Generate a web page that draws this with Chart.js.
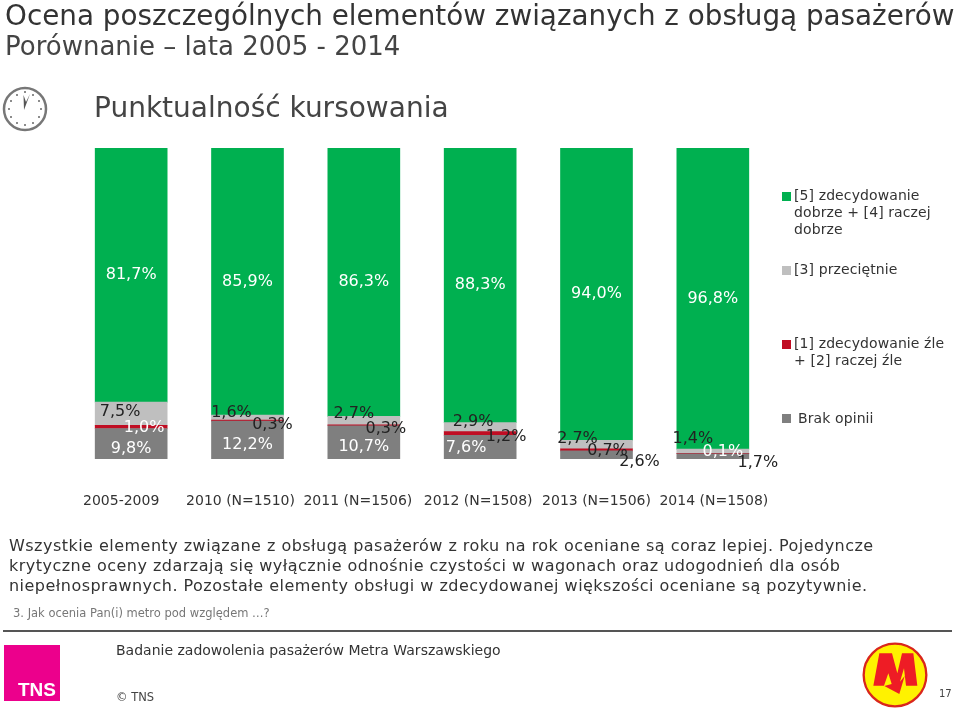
<!DOCTYPE html>
<html lang="pl">
<head>
<meta charset="utf-8">
<title>Punktualność kursowania</title>
<script src="https://cdn.jsdelivr.net/npm/chart.js@4"></script>
<style>
  html, body { margin: 0; padding: 0; background: #fff; }
  #page { position: relative; width: 960px; height: 712px; overflow: hidden; font-family: "DejaVu Sans", sans-serif; color: #333; }
  #page canvas { position: absolute; left: 0; top: 0; }
  .t { position: absolute; white-space: nowrap; }
  .swatch { position: absolute; width: 9px; height: 9px; }
  .leg { font-size: 14px; line-height: 17px; letter-spacing: 0.1px; }
</style>
</head>
<body>
<div id="page">
  <canvas id="chart" width="960" height="712"></canvas>

  <div class="t" style="left:5px;top:-1px;font-size:27.8px;color:#333">Ocena poszczególnych elementów związanych z obsługą pasażerów</div>
  <div class="t" style="left:5px;top:31px;font-size:26px;color:#444">Porównanie – lata 2005 - 2014</div>
  <div class="t" style="left:94px;top:91px;font-size:28px;color:#444">Punktualność kursowania</div>

  <svg style="position:absolute;left:0;top:84px" width="50" height="50" viewBox="0 0 50 50">
    <circle cx="25" cy="25" r="21" fill="#fff" stroke="#777" stroke-width="2.5"/>
    <g fill="#666">
      <circle cx="25" cy="8" r="1"/><circle cx="41" cy="25" r="1"/><circle cx="25" cy="41" r="1"/><circle cx="9" cy="25" r="1"/>
      <circle cx="33" cy="11" r="1"/><circle cx="39" cy="17" r="1"/><circle cx="39" cy="33" r="1"/><circle cx="33" cy="39" r="1"/>
      <circle cx="17" cy="39" r="1"/><circle cx="11" cy="33" r="1"/><circle cx="11" cy="17" r="1"/><circle cx="17" cy="11" r="1"/>
    </g>
    <polygon points="24,26 23.5,11 26,18 30,10" fill="#555"/>
  </svg>

  <div class="swatch" style="left:782px;top:192px;background:#00B050"></div>
  <div class="t leg" style="left:794px;top:187px">[5] zdecydowanie<br>dobrze + [4] raczej<br>dobrze</div>
  <div class="swatch" style="left:782px;top:266px;background:#BFBFBF"></div>
  <div class="t leg" style="left:794px;top:261px">[3] przeciętnie</div>
  <div class="swatch" style="left:782px;top:340px;background:#C00D23"></div>
  <div class="t leg" style="left:794px;top:335px">[1] zdecydowanie źle<br>+ [2] raczej źle</div>
  <div class="swatch" style="left:782px;top:414px;background:#7F7F7F"></div>
  <div class="t leg" style="left:798px;top:410px">Brak opinii</div>

  <div class="t" style="left:9px;top:536px;font-size:16px;line-height:20px;letter-spacing:0.47px;color:#333">Wszystkie elementy związane z obsługą pasażerów z roku na rok oceniane są coraz lepiej. Pojedyncze<br>krytyczne oceny zdarzają się wyłącznie odnośnie czystości w wagonach oraz udogodnień dla osób<br>niepełnosprawnych. Pozostałe elementy obsługi w zdecydowanej większości oceniane są pozytywnie.</div>
  <div class="t" style="left:13px;top:606px;font-size:11.5px;color:#777">3. Jak ocenia Pan(i) metro pod względem …?</div>

  <div style="position:absolute;left:3px;top:630px;width:949px;height:2px;background:#555"></div>
  <div class="t" style="left:116px;top:642px;font-size:14px;color:#333">Badanie zadowolenia pasażerów Metra Warszawskiego</div>
  <div class="t" style="left:116px;top:690px;font-size:11.5px;color:#444">© TNS</div>
  <div class="t" style="left:939px;top:688px;font-size:10px;color:#444">17</div>

  <div style="position:absolute;left:4px;top:645px;width:56px;height:56px;background:#EC008C"></div>
  <div class="t" style="left:18px;top:679px;font-family:'Liberation Sans',sans-serif;font-size:19px;font-weight:bold;color:#fff">TNS</div>

  <svg style="position:absolute;left:820px;top:620px" width="140" height="92" viewBox="0 0 420 276">
    <circle cx="225" cy="165" r="94" fill="#FFF200" stroke="#D9261C" stroke-width="7"/>
    <polygon fill="#EE1C25" points="160,197 178,100 216,100 232,160 246,100 280,100 292,197 258,197 252,145 240,185 254,168 238,222 193,198 215,192 205,160 192,197"/>
  </svg>
</div>

<script>
// Datos del gráfico
const categories = ["2005-2009", "2010 (N=1510)", "2011 (N=1506)", "2012 (N=1508)", "2013 (N=1506)", "2014 (N=1508)"];
const brakOpinii = [9.8, 12.2, 10.7, 7.6, 2.6, 1.7];
const zle = [1.0, 0.3, 0.3, 1.2, 0.7, 0.1];
const przecietnie = [7.5, 1.6, 2.7, 2.9, 2.7, 1.4];
const dobrze = [81.7, 85.9, 86.3, 88.3, 94.0, 96.8];

// Desplazamiento de cada etiqueta respecto al centro del segmento, como en la lámina
const labelShift = [
  { color: ["#fff", "#fff", "#fff", "#fff", "#222", "#222"], dx: [0, 0, 0, -14, 43, 45], dy: [5, 5, 4, 1, 7, 6] },
  { color: ["#fff", "#222", "#222", "#222", "#222", "#fff"], dx: [13, 25, 22, 26, 11, 10], dy: [1, 4, 4, 3, 1, -2] },
  { color: ["#222", "#222", "#222", "#222", "#222", "#222"], dx: [-11, -16, -10, -7, -19, -20], dy: [-2, -5, -7, -5, -6, -12] },
  { color: ["#fff", "#fff", "#fff", "#fff", "#fff", "#fff"], dx: [0, 0, 0, 0, 0, 0], dy: [0, 0, 0, 0, 0, 0] }
];
const tickShift = [-10, -7, -6, -2, 0, 1];

const segmentLabels = {
  id: "segmentLabels",
  afterDatasetsDraw(chart) {
    const ctx = chart.ctx;
    ctx.save();
    ctx.textAlign = "center";
    ctx.textBaseline = "middle";
    ctx.font = '16px "DejaVu Sans"';
    chart.data.datasets.forEach((ds, i) => {
      chart.getDatasetMeta(i).data.forEach((bar, j) => {
        const shift = labelShift[i];
        const text = ds.data[j].toFixed(1).replace(".", ",") + "%";
        ctx.fillStyle = shift.color[j];
        ctx.fillText(text, bar.x + shift.dx[j], (bar.y + bar.base) / 2 + shift.dy[j]);
      });
    });
    // Etiquetas del eje x: en la lámina no están centradas bajo las barras
    const xScale = chart.scales.x;
    ctx.font = '14px "DejaVu Sans"';
    ctx.fillStyle = "#333";
    categories.forEach((name, j) => {
      ctx.fillText(name, xScale.getPixelForTick(j) + tickShift[j], xScale.top + 42);
    });
    ctx.restore();
  }
};

new Chart(document.getElementById("chart"), {
  type: "bar",
  data: {
    labels: categories,
    datasets: [
      { label: "Brak opinii", data: brakOpinii, backgroundColor: "#7F7F7F" },
      { label: "[1] zdecydowanie źle + [2] raczej źle", data: zle, backgroundColor: "#C00D23" },
      { label: "[3] przeciętnie", data: przecietnie, backgroundColor: "#BFBFBF" },
      { label: "[5] zdecydowanie dobrze + [4] raczej dobrze", data: dobrze, backgroundColor: "#00B050" }
    ]
  },
  options: {
    responsive: false,
    animation: false,
    layout: { padding: { left: 73, right: 189, top: 148, bottom: 0 } },
    datasets: { bar: { barThickness: 72 } },
    plugins: { legend: { display: false }, tooltip: { enabled: false }, title: { display: false } },
    scales: {
      x: {
        stacked: true,
        grid: { display: false },
        border: { display: false },
        afterFit(scale) { scale.height = 253; },
        ticks: { display: false }
      },
      y: { stacked: true, display: false, min: 0, max: 100 }
    }
  },
  plugins: [segmentLabels]
});
</script>
</body>
</html>
